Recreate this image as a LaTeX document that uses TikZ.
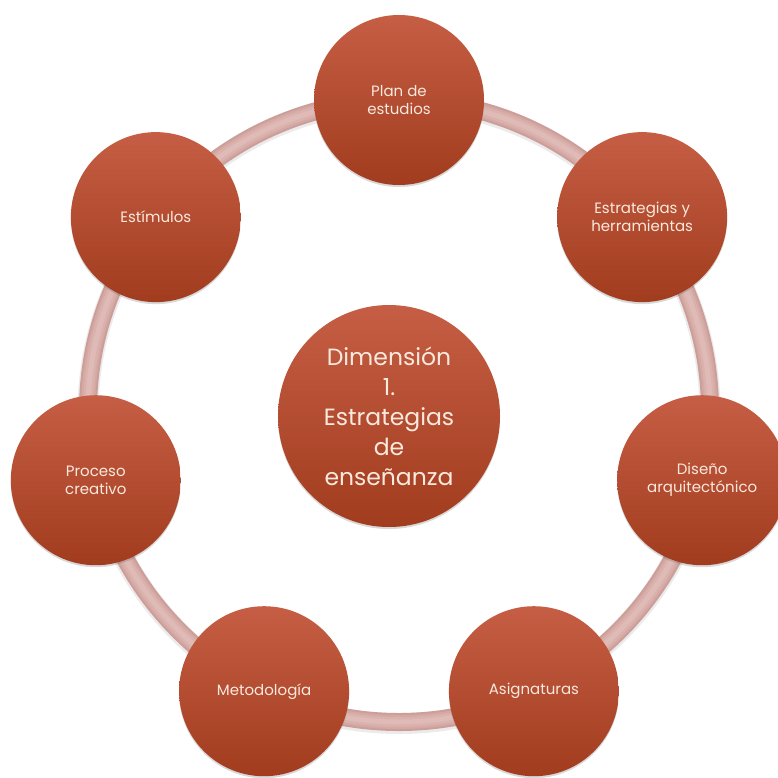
\documentclass[tikz,border=0pt]{standalone}
\usepackage{fontspec}
\setmainfont{Poppins}
\usetikzlibrary{shadows,calc}
\definecolor{nodetop}{RGB}{197,94,68}
\definecolor{nodebot}{RGB}{162,60,30}
\definecolor{txt}{RGB}{250,233,222}
\definecolor{ringa}{RGB}{205,158,153}
\definecolor{ringb}{RGB}{212,168,163}
\definecolor{ringc}{RGB}{218,178,173}
\definecolor{ringd}{RGB}{223,186,182}
\begin{document}
\begin{tikzpicture}[x=1pt,y=-1pt,
  bubble/.style={circle, minimum size=170pt, inner sep=0pt, top color=nodetop, bottom color=nodebot,
    text=txt, font=\fontsize{15}{18}\selectfont, align=center,
    drop shadow={opacity=0.25, shadow xshift=0pt, shadow yshift=-2pt, fill=black!60}},
  hub/.style={bubble, minimum size=222pt, font=\fontsize{23.5}{30}\selectfont},
  ringline/.style={line width=#1}]
\useasboundingbox (0,0) rectangle (778,777);
\fill[white] (0,0) rectangle (778,777);
\coordinate (o) at (399,411);
% ring
\draw[black!30, opacity=0.25, ringline=21pt] ([yshift=-1.5pt]o) circle[radius=311];
\draw[ringa, ringline=18pt] (o) circle[radius=311];
\draw[ringb, ringline=14pt] (o) circle[radius=311];
\draw[ringc, ringline=10pt] (o) circle[radius=311];
\draw[ringd, ringline=5pt] (o) circle[radius=311];
% outer nodes
\node[bubble] (plan) at ($(o)+(-90:311)$) {Plan de\\estudios};
\node[bubble] (estr) at ($(o)+(-38.57:311)$) {Estrategias y\\herramientas};
\node[bubble] (dise) at ($(o)+(12.86:311)$) {Diseño\\arquitectónico};
\node[bubble] (asig) at ($(o)+(64.29:311)$) {Asignaturas};
\node[bubble] (meto) at ($(o)+(115.71:311)$) {Metodología};
\node[bubble] (proc) at ($(o)+(167.14:311)$) {Proceso\\creativo};
\node[bubble] (esti) at ($(o)+(218.57:311)$) {Estímulos};
% hub
\node[hub] (dim) at (389,416) {Dimensión\\1.\\Estrategias\\de\\enseñanza};
\end{tikzpicture}
\end{document}
